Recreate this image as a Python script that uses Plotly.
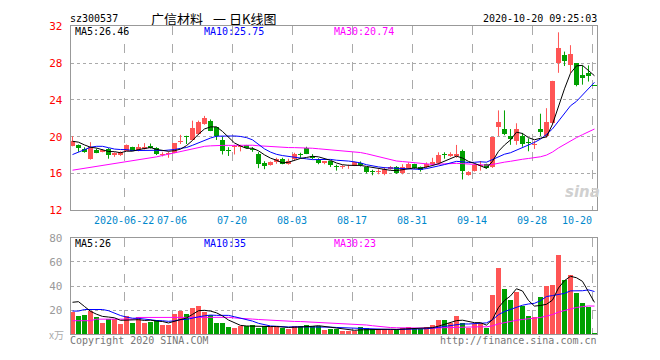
import plotly.graph_objects as go

# ---------------- data ----------------
opens = [19.02, 19.09, 18.65, 17.54, 18.60, 18.35, 18.67, 17.96, 18.00, 18.49,
         18.84, 18.60, 18.67, 19.00, 18.77, 18.03, 18.10, 18.25, 19.45, 20.06,
         19.64, 20.24, 21.40, 21.74, 21.00, 19.64, 18.50, 18.90, 18.85, 19.08,
         18.70, 18.14, 17.15, 16.90, 17.26, 17.61, 17.02, 17.61, 18.10, 18.73,
         17.89, 17.51, 17.10, 17.30, 16.80, 16.70, 16.65, 16.84, 17.10, 16.67,
         16.20, 16.15, 15.90, 16.49, 16.67, 16.04, 16.63, 16.98, 16.67, 16.70,
         16.98, 17.09, 18.00, 17.90, 17.90, 18.41, 15.85, 16.21, 16.85, 17.00,
         16.73, 21.10, 20.83, 20.06, 19.53, 20.06, 19.46, 19.10, 20.86, 20.06,
         21.46, 28.00, 28.90, 27.76, 28.00, 26.70, 26.88, 25.60]
highs = [20.05, 19.15, 18.85, 19.40, 18.70, 18.65, 18.75, 18.30, 18.40, 19.15,
         18.90, 19.20, 19.30, 19.25, 18.85, 18.30, 18.35, 19.30, 20.20, 20.10,
         21.74, 21.75, 22.26, 21.87, 21.05, 19.99, 18.85, 19.10, 19.10, 19.10,
         18.85, 18.31, 17.33, 17.30, 17.70, 17.70, 17.60, 18.25, 18.25, 18.90,
         18.10, 17.65, 17.35, 17.35, 16.95, 16.90, 16.95, 17.30, 17.30, 16.70,
         16.40, 16.45, 16.70, 16.80, 16.80, 17.00, 17.20, 17.05, 16.75, 17.20,
         17.70, 18.30, 18.30, 18.30, 19.10, 18.59, 16.25, 17.10, 17.35, 17.05,
         20.00, 22.86, 22.86, 20.83, 21.46, 20.41, 19.81, 19.53, 22.50, 23.10,
         26.08, 31.36, 29.26, 29.96, 28.00, 27.76, 27.76, 25.60]
lows = [18.95, 18.35, 18.25, 17.50, 18.20, 18.30, 17.60, 17.80, 17.90, 18.45,
        18.45, 18.40, 18.60, 18.70, 18.00, 17.85, 17.70, 18.20, 19.20, 19.20,
        19.60, 20.20, 21.30, 20.60, 19.64, 18.06, 17.90, 18.06, 18.40, 18.70,
        18.35, 16.57, 16.46, 16.85, 17.05, 17.00, 16.95, 17.40, 17.70, 18.10,
        17.55, 17.00, 17.00, 16.70, 16.30, 16.50, 16.50, 16.80, 16.75, 16.00,
        15.80, 15.90, 15.80, 16.40, 15.95, 15.90, 16.55, 16.50, 16.20, 16.55,
        16.80, 16.95, 17.60, 17.80, 17.70, 15.34, 15.75, 16.20, 16.30, 16.50,
        16.60, 20.06, 20.16, 19.11, 19.11, 18.90, 18.41, 18.66, 20.06, 19.88,
        21.28, 26.95, 27.69, 26.95, 25.48, 25.66, 26.00, 25.55]
closes = [19.51, 18.81, 18.35, 18.88, 18.25, 18.50, 17.96, 18.25, 18.30, 19.09,
          18.49, 18.85, 18.90, 18.74, 18.07, 18.12, 18.20, 19.26, 19.55, 20.00,
          20.93, 21.63, 22.08, 20.66, 20.06, 18.41, 18.45, 19.00, 19.00, 18.77,
          18.50, 17.02, 16.81, 17.22, 17.61, 17.05, 17.37, 18.07, 18.05, 18.14,
          17.68, 17.09, 17.30, 16.90, 16.70, 16.75, 16.75, 17.20, 16.95, 16.15,
          16.15, 16.20, 16.49, 16.67, 16.04, 16.67, 16.98, 16.63, 16.39, 17.04,
          17.26, 17.96, 17.98, 18.10, 18.10, 16.21, 16.15, 16.90, 16.95, 16.60,
          19.99, 21.56, 20.34, 19.71, 20.86, 19.25, 19.30, 19.20, 20.51, 21.63,
          26.08, 29.61, 28.20, 28.98, 25.66, 26.36, 26.60, 25.55]
volumes = [18.7, 15.2, 16.0, 19.2, 13.9, 9.6, 12.5, 12.8, 8.8, 15.2,
           9.6, 13.9, 9.6, 9.9, 11.7, 7.5, 8.0, 16.5, 19.2, 16.5,
           22.1, 23.2, 18.1, 16.0, 9.3, 9.3, 6.1, 5.3, 6.7, 6.7,
           8.0, 4.8, 6.4, 5.9, 6.7, 4.8, 4.3, 7.2, 6.7, 8.0,
           6.7, 6.7, 3.5, 4.0, 4.0, 2.7, 2.7, 2.7, 5.9, 4.8,
           4.0, 4.0, 4.0, 4.0, 4.0, 5.3, 5.9, 4.0, 4.0, 5.9,
           7.5, 12.0, 12.0, 9.3, 15.5, 9.3, 5.3, 8.5, 9.3, 5.3,
           32.8, 54.7, 37.9, 28.0, 35.2, 23.5, 15.5, 14.4, 30.7, 40.0,
           40.8, 65.9, 44.8, 48.8, 33.9, 25.9, 22.7, 0.8]

# moving-average values before a full window is visible
ma5_head = [19.50, 19.40, 19.10, 18.85]
ma10_head = [18.05, 18.30, 18.60, 18.85, 18.95, 18.95, 18.80, 18.65, 18.60]
ma30_head = [16.35, 16.45, 16.55, 16.65, 16.75, 16.85, 16.95, 17.05, 17.15, 17.30,
             17.40, 17.50, 17.60, 17.70, 17.80, 17.95, 18.10, 18.20, 18.35, 18.50,
             18.65, 18.80, 18.95, 19.00, 19.05, 19.05, 19.05, 19.05, 19.05]
vma5_head = [26.5, 27.0, 23.0, 19.0]
vma10_head = [19.2, 19.2, 20.5, 20.5, 20.5, 20.5, 19.5, 17.5, 15.5]
vma30_head = [11.2, 11.2, 11.2, 11.2, 12.5, 12.5, 12.5, 12.5, 12.5, 12.5,
              12.5, 13.9, 13.9, 13.9, 13.9, 13.9, 13.9, 13.9, 13.9, 13.9,
              13.9, 14.2, 14.2, 14.2, 14.2, 14.2, 14.0, 13.5, 13.0]

tick_idx = [9, 17, 27, 37, 47, 57, 67, 77, 87]
tick_labels = ["2020-06-22", "07-06", "07-20", "08-03", "08-17", "08-31", "09-14", "09-28", "10-20"]
price_ticks = [12, 16, 20, 24, 28, 32]
vol_ticks = [20, 40, 60, 80]

code = "sz300537"
title_parts = ["广信材料", "一", "日K线图"]
stamp = "2020-10-20 09:25:03"
ma_labels = ["MA5:26.46", "MA10:25.75", "MA30:20.74"]
vma_labels = ["MA5:26", "MA10:35", "MA30:23"]

# ---------------- helpers ----------------
W, H = 660, 360
RED, GREEN = "#ff5555", "#00a000"
GRID = "#aaaaaa"
MONO = "DejaVu Sans Mono"
CJK = "Noto Sans CJK SC"


def px(x):
    return x / W


def py(y):
    return 1 - y / H


def moving(vals, n, head):
    out = list(head)
    for i in range(n - 1, len(vals)):
        out.append(sum(vals[i - n + 1:i + 1]) / n)
    return out


n = len(closes)
xs = list(range(n))
up = [c > o for o, c in zip(opens, closes)]
cols = [RED if u else GREEN for u in up]
base = [min(o, c) for o, c in zip(opens, closes)]
body = [max(abs(c - o), 0.1) for o, c in zip(opens, closes)]

fig = go.Figure()

# wicks
for flag, col in ((True, RED), (False, GREEN)):
    wx, wy = [], []
    for i in xs:
        if up[i] == flag:
            wx += [i, i, None]
            wy += [lows[i], highs[i], None]
    fig.add_trace(go.Scatter(x=wx, y=wy, mode="lines", line=dict(color=col, width=1),
                             hoverinfo="skip", showlegend=False, xaxis="x", yaxis="y"))

# bodies
fig.add_trace(go.Bar(x=xs, y=body, base=base, width=0.72, marker=dict(color=cols, line=dict(width=0)),
                     showlegend=False, xaxis="x", yaxis="y"))

# price MAs
for vals, col in ((moving(closes, 30, ma30_head), "#ff00ff"),
                  (moving(closes, 10, ma10_head), "#0000ff"),
                  (moving(closes, 5, ma5_head), "#000000")):
    fig.add_trace(go.Scatter(x=xs, y=vals, mode="lines", line=dict(color=col, width=1),
                             showlegend=False, xaxis="x", yaxis="y"))

# volume
fig.add_trace(go.Bar(x=xs, y=volumes, width=0.72, marker=dict(color=cols, line=dict(width=0)),
                     showlegend=False, xaxis="x2", yaxis="y2"))
for vals, col in ((moving(volumes, 30, vma30_head), "#ff00ff"),
                  (moving(volumes, 10, vma10_head), "#0000ff"),
                  (moving(volumes, 5, vma5_head), "#000000")):
    fig.add_trace(go.Scatter(x=xs, y=vals, mode="lines", line=dict(color=col, width=1),
                             showlegend=False, xaxis="x2", yaxis="y2"))

xrange = [-0.3, 87.47]
grid_x = [t - 0.37 for t in tick_idx]
xdom = [px(70.7), px(597.3)]
common_x = dict(domain=xdom, range=xrange, tickvals=grid_x, showticklabels=False, ticks="",
                showgrid=True, gridcolor=GRID, griddash="dash", gridwidth=1,
                showline=True, mirror=True, linecolor="#999999", linewidth=1, zeroline=False)

fig.update_layout(
    width=W, height=H, autosize=False,
    margin=dict(l=0, r=0, t=0, b=0),
    paper_bgcolor="white", plot_bgcolor="white",
    bargap=0, showlegend=False,
    xaxis=dict(anchor="y", **common_x),
    xaxis2=dict(anchor="y2", **common_x),
    yaxis=dict(domain=[py(211.8), py(21.2)], range=[12, 32], tickvals=price_ticks,
               ticktext=[str(t) for t in price_ticks], tickfont=dict(family=MONO, size=11, color="#ff0000"),
               ticks="", ticklabelstandoff=5, showgrid=True, gridcolor=GRID, griddash="dot",
               showline=True, mirror=True, linecolor="#999999", zeroline=False, anchor="x"),
    yaxis2=dict(domain=[py(340.5), py(240.5)], range=[0, 80], tickvals=vol_ticks,
                ticktext=[str(t) for t in vol_ticks], tickfont=dict(family=MONO, size=11, color="#999999"),
                ticks="", ticklabelstandoff=5, showgrid=True, gridcolor=GRID, griddash="dot",
                showline=True, mirror=True, linecolor="#999999", zeroline=False, anchor="x2"),
)

ann = []


def text(x, y, s, color="#000000", size=10, anchor="left", family=MONO, xref="paper", h=None):
    a = dict(x=x if xref != "paper" else px(x), y=py(y), xref=xref, yref="paper", text=s,
             showarrow=False, xanchor=anchor, yanchor="middle", borderpad=0,
             font=dict(family=family, size=size, color=color))
    if h is not None:
        a["height"] = h
    ann.append(a)


text(69, 12.5, code, size=10, h=12)
for part, x in zip(title_parts, (149.5, 212, 228)):
    text(x, 12.5, part, size=13, family=CJK, h=14)
text(598, 12.5, stamp, size=10, anchor="right", h=12)

ma_cols = ["#000000", "#0000ff", "#ff00ff"]
for lab, col, x in zip(ma_labels, ma_cols, (73.5, 203, 333.5)):
    text(x, 26.5, lab, color=col, h=11)
for lab, col, x in zip(vma_labels, ma_cols, (73.5, 203, 333.5)):
    text(x, 246.5, lab, color=col, h=11)

for idx, lab in zip(tick_idx, tick_labels):
    anchor = "right" if idx == tick_idx[-1] else "center"
    xv = idx - 0.37 + (0.1 if anchor == "right" else 0)
    text(xv, 221.7, lab, color="#0088cc", anchor=anchor, xref="x", h=12)

text(48, 340, "x万", color="#aaaaaa", size=10, family=CJK, h=12)
text(69, 346, "Copyright 2020 SINA.COM", color="#777777", h=12)
text(598, 346, "http://finance.sina.com.cn", color="#777777", anchor="right", h=12)
text(582, 193, "<b><i>sina</i></b>", color="#d0d0d0", size=15, anchor="center", family="DejaVu Sans", h=16)

fig.update_layout(annotations=ann)
fig.write_html("out.html", config={"staticPlot": True, "displayModeBar": False},
               post_script="document.body.style.margin='0px';document.body.style.overflow='hidden';")
